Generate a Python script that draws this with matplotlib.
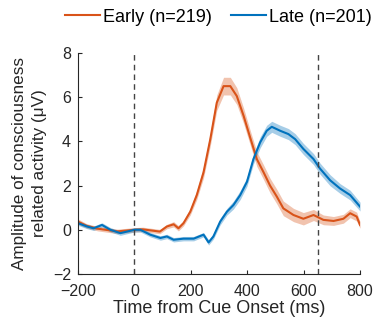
import numpy as np
import matplotlib.pyplot as plt

plt.rcParams['font.family'] = ['Liberation Sans', 'DejaVu Sans']

# Early (n=219)
early_t = [-200, -170, -130, -90, -60, 0, 30, 60, 90, 115, 139, 156, 174, 198, 221, 245,
           269, 292, 316, 340, 363, 387, 410, 434, 458, 481, 505, 528, 564, 599, 635,
           670, 706, 741, 765, 788, 800]
early_y = [0.37, 0.18, 0.05, -0.02, -0.07, 0.0, 0.02, -0.03, -0.08, 0.15, 0.25, 0.07,
           0.3, 0.82, 1.57, 2.6, 4.1, 5.75, 6.5, 6.5, 6.05, 5.16, 4.19, 3.2, 2.6, 2.0,
           1.5, 0.97, 0.67, 0.5, 0.67, 0.45, 0.4, 0.5, 0.75, 0.6, 0.22]
early_err = [0.12, 0.1, 0.1, 0.1, 0.1, 0.1, 0.1, 0.1, 0.1, 0.1, 0.12, 0.12, 0.12, 0.15,
             0.2, 0.25, 0.3, 0.35, 0.4, 0.4, 0.38, 0.35, 0.33, 0.33, 0.33, 0.33, 0.33,
             0.33, 0.3, 0.28, 0.25, 0.22, 0.2, 0.2, 0.2, 0.2, 0.15]

# Late (n=201)
late_t = [-200, -168, -145, -115, -85, -50, 0, 21, 56, 92, 115, 139, 174, 210, 245, 263,
          280, 304, 328, 351, 375, 399, 422, 446, 469, 487, 517, 546, 570, 599, 635,
          658, 694, 729, 765, 800]
late_y = [0.3, 0.15, 0.07, 0.22, 0.0, -0.15, 0.0, 0.0, -0.22, -0.37, -0.3, -0.45, -0.4,
          -0.4, -0.22, -0.57, -0.3, 0.37, 0.82, 1.12, 1.57, 2.17, 3.2, 3.96, 4.48, 4.66,
          4.48, 4.33, 4.1, 3.66, 3.2, 2.77, 2.24, 1.87, 1.57, 1.05]
late_err = [0.1, 0.1, 0.1, 0.1, 0.1, 0.1, 0.1, 0.1, 0.1, 0.1, 0.1, 0.1, 0.1, 0.1, 0.1,
            0.12, 0.12, 0.15, 0.15, 0.18, 0.2, 0.2, 0.22, 0.25, 0.25, 0.25, 0.25, 0.25,
            0.25, 0.25, 0.25, 0.25, 0.25, 0.22, 0.22, 0.2]

early_col = '#D95319'
late_col = '#0072BD'

fig = plt.figure(figsize=(3.77, 3.27), dpi=100)
ax = fig.add_axes([0.207, 0.162, 0.748, 0.676])

for t, y, e, c, lab in [(early_t, early_y, early_err, early_col, 'Early (n=219)'),
                        (late_t, late_y, late_err, late_col, 'Late (n=201)')]:
    t, y, e = np.array(t), np.array(y), np.array(e)
    ax.fill_between(t, y - e, y + e, color=c, alpha=0.35, lw=0)
    ax.plot(t, y, color=c, lw=1.5, label=lab)

for xv in [0, 650]:
    ax.axvline(xv, color='#444444', ls=(0, (4, 3)), lw=1)

ax.set_xlim(-200, 800)
ax.set_ylim(-2, 8)
ax.set_xticks([-200, 0, 200, 400, 600, 800])
ax.set_yticks([-2, 0, 2, 4, 6, 8])
ax.tick_params(direction='in', labelsize=11.5, colors='#262626', length=3)
ax.tick_params(axis='x', pad=7)
ax.tick_params(axis='y', pad=5)
ax.spines['top'].set_visible(False)
ax.spines['right'].set_visible(False)
for s in ['left', 'bottom']:
    ax.spines[s].set_color('#262626')
ax.set_xlabel('Time from Cue Onset (ms)', fontsize=13, color='#262626', labelpad=1)
ax.set_ylabel('Amplitude of consciousness\nrelated activity (\u03bcV)', fontsize=12.3,
              color='#262626', labelpad=4, linespacing=1.45)

fig.legend(loc='center', bbox_to_anchor=(0.58, 0.948), ncol=2, frameon=False,
           fontsize=13, handlelength=1.9, handletextpad=0.2, columnspacing=1.05,
           borderaxespad=0)

fig.savefig('out.png', dpi=100)
